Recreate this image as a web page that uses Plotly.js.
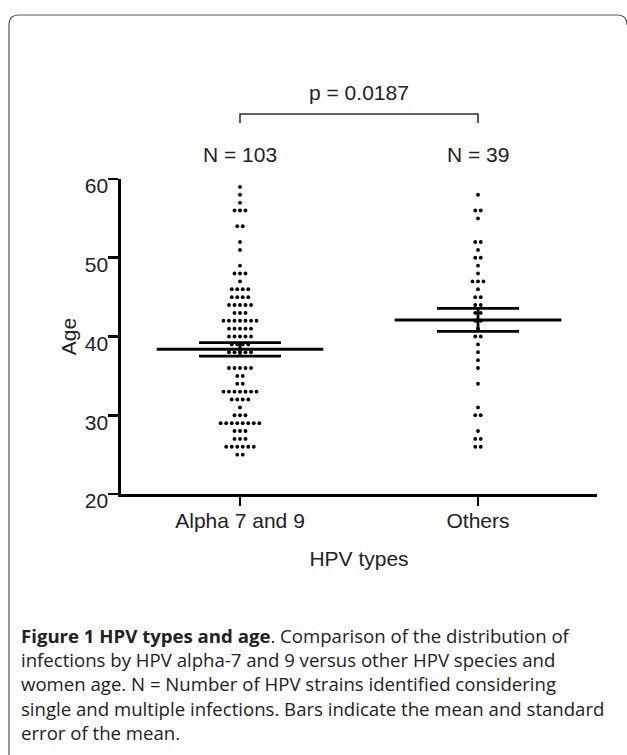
<!DOCTYPE html>
<html><head><meta charset="utf-8">
<script src="https://cdn.plot.ly/plotly-3.0.1.min.js"></script>
<style>html,body{margin:0;padding:0;background:#fff;} #chart{width:627px;height:755px;}</style>
</head><body><div id="chart"></div>
<script>
const categories = ["Alpha 7 and 9", "Others"];
const groupLabels = ["N = 103", "N = 39"];
const pValueLabel = "p = 0.0187";
const yTickVals = [20, 30, 40, 50, 60];
const xTitle = "HPV types";
const yTitle = "Age";
const alphaAges = [59, 58, 57, 56,56,56, 54,54, 52, 51, 49, 48,48,48, 47, 46,46,46,46, 45,45,45,45,
  44,44,44,44,44, 43,43,43, 42,42,42,42,42,42,42, 41,41,41,41,41, 40,40,40,40,40, 39,39,39,39,
  38,38,38,38,38, 36,36,36,36,36, 35,35, 34,34, 33,33,33,33,33,33,33, 32,32,32,32, 31, 30,30,30,
  29,29,29,29,29,29,29,29, 28,28,28, 27,27,27, 26,26,26,26,26,26, 25,25];
const othersAges = [58, 56,56, 55, 52,52, 51, 50,50, 49, 48, 47,47,47, 46, 45,45, 44,44, 43,43, 42,42,
  41, 40,40, 39, 38, 37, 36, 34, 31, 30,30, 28, 27,27, 26,26];
const captionLines = [
  "<b>Figure 1 HPV types and age</b>. Comparison of the distribution of",
  "infections by HPV alpha-7 and 9 versus other HPV species and",
  "women age. N = Number of HPV strains identified considering",
  "single and multiple infections. Bars indicate the mean and standard",
  "error of the mean."
];

// ---- layout geometry (pixels) ----
const W = 627, H = 755, L = 121, R = 597, T = 179, B = 494;
const pw = R - L, ph = B - T;
const px = x => (x - L) / pw;
const py = y => (B - y) / ph;
const DX = 0.0232;          // horizontal dot spacing in x units
const MEAN_HALF = 0.35;     // half-width of mean line in x units
const CAP_HALF = 41;        // half-width of SEM caps in px

function swarm(ages, center) {
  const counts = {}, seen = {};
  ages.forEach(a => counts[a] = (counts[a] || 0) + 1);
  return ages.map(a => {
    const i = seen[a] = (seen[a] === undefined ? 0 : seen[a] + 1);
    return center + (i - (counts[a] - 1) / 2) * DX;
  });
}
function stats(a) {
  const n = a.length, m = a.reduce((s, v) => s + v, 0) / n;
  const sd = Math.sqrt(a.reduce((s, v) => s + (v - m) * (v - m), 0) / (n - 1));
  return {mean: m, sem: sd / Math.sqrt(n)};
}
const groups = [alphaAges, othersAges];
const st = groups.map(stats);

const dotTraces = groups.map((ages, gi) => ({
  type: 'scatter', mode: 'markers', x: swarm(ages, gi), y: ages,
  marker: {size: 3.8, color: '#000'}, hoverinfo: 'y', cliponaxis: false
}));
const meanTrace = {
  type: 'scatter', mode: 'markers', x: [0, 1], y: st.map(s => s.mean),
  marker: {size: 1, color: 'rgba(0,0,0,0)'},
  error_y: {type: 'data', array: st.map(s => s.sem), visible: true, color: '#000', thickness: 2.8, width: CAP_HALF},
  error_x: {type: 'constant', value: MEAN_HALF, visible: true, color: '#000', thickness: 3, width: 0},
  hoverinfo: 'skip'
};

const annotations = [];
groupLabels.forEach((t, i) => annotations.push({
  text: t, x: i, xref: 'x', y: py(154), yref: 'paper', showarrow: false,
  xanchor: 'center', yanchor: 'middle', font: {size: 21}
}));
annotations.push({text: pValueLabel, x: 0.5, xref: 'x', y: py(92), yref: 'paper', showarrow: false,
  xanchor: 'center', yanchor: 'middle', font: {size: 21}});
annotations.push({
  text: captionLines.join('<br>'), x: px(19), xref: 'paper', y: py(684), yref: 'paper', showarrow: false,
  xanchor: 'left', yanchor: 'middle', align: 'left',
  font: {family: '"Open Sans", "Noto Sans", sans-serif', size: 18.6, color: '#222'}
});

const shapes = [
  {type: 'path', xref: 'x', yref: 'paper',
   path: `M 0 ${py(123)} L 0 ${py(114)} L 1 ${py(114)} L 1 ${py(123)}`,
   line: {color: '#333', width: 1.6}},
  {type: 'path', xref: 'paper', yref: 'paper',
   path: `M ${px(9)} ${py(760)} L ${px(9)} ${py(25)} Q ${px(9)} ${py(15)} ${px(19)} ${py(15)} L ${px(617)} ${py(15)} Q ${px(627)} ${py(15)} ${px(627)} ${py(25)}`,
   line: {color: '#555', width: 1.2}}
];

const axisCommon = {
  showline: true, linewidth: 2.6, linecolor: '#000', ticks: 'outside', tickwidth: 2.6, tickcolor: '#000',
  showgrid: false, zeroline: false, fixedrange: true, tickfont: {size: 21, color: '#222'}
};
const layout = {
  width: W, height: H, margin: {l: L, r: W - R, t: T, b: H - B, pad: 0},
  paper_bgcolor: '#fff', plot_bgcolor: '#fff', showlegend: false,
  font: {family: '"Liberation Sans", Arial, sans-serif', size: 21, color: '#222'},
  xaxis: Object.assign({}, axisCommon, {range: [-0.5, 1.5], tickvals: [0, 1], ticktext: categories,
    ticklen: 9, ticklabelstandoff: -3, title: {text: xTitle, standoff: 21, font: {size: 21}}}),
  yaxis: Object.assign({}, axisCommon, {range: [20, 60], tickvals: yTickVals, ticklen: 10,
    ticklabelshift: 7, ticklabelstandoff: -4, title: {text: yTitle, standoff: 3, font: {size: 21}}}),
  shapes: shapes, annotations: annotations
};
Plotly.newPlot('chart', [...dotTraces, meanTrace], layout, {displayModeBar: false, staticPlot: true});
</script></body></html>
